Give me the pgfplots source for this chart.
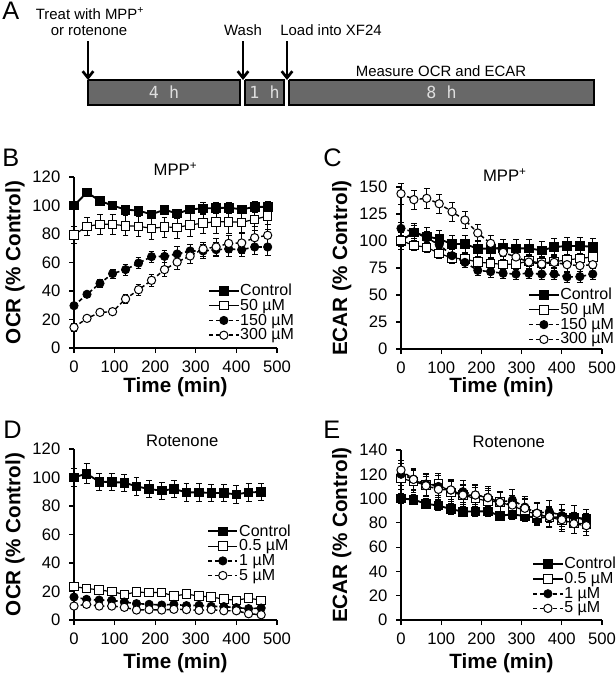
\documentclass[border=0pt]{standalone}
\usepackage{fontspec}
\setmainfont{Liberation Sans}
\newfontfamily\monofont{DejaVu Sans Mono}
\usepackage{pgfplots}
\pgfplotsset{compat=1.18}
\usepackage{pgfplotstable}
\usetikzlibrary{arrows.meta}
\definecolor{bargray}{RGB}{104,104,104}
\definecolor{bartext}{RGB}{222,222,222}

\pgfplotstableread{
t k ke a ae b be c ce
0 100 2 79.3 6 29.7 2 14.5 3
32 109.2 2 85.4 6 37.7 2 20.8 2
64 103.2 2 86.8 7 45.4 3 25.0 2
95 100 3 86.8 7 52.2 3 25.5 2
127 97.1 3 85.8 7 55.0 4 34.4 3
159 96.4 3 85.4 7 59.6 4 40.9 4
191 93.8 3 84.0 8 64.1 4 47.5 4
223 97.1 3 84.9 7 64.3 4 55.0 5
254 94.3 3 84.7 8 66.0 5 60.3 5
286 97.3 3 86.3 8 68.1 5 64.6 5
318 98 4 87.7 7 68.1 5 69.5 5
350 98.2 4 88.6 8 69.0 5 70.9 6
381 98.5 4 88.6 8 69.5 5 73.4 6
413 97.3 3 88.2 7 69.0 5 73.7 7
445 99 4 90.3 8 70.9 5 77.4 8
477 99 4 92.6 9 70.9 6 79.1 8
}\tabB

\pgfplotstableread{
t k ke a ae b be c ce
0 100.3 8 100.3 5 111.7 6 143.8 10
32 108.0 8 96.0 5 108.3 6 138.3 9
64 104.3 8 94.1 5 102.8 6 139.5 9
95 101.8 8 88.6 5 96.6 6 134.5 9
127 97.2 8 84.2 5 86.4 6 127.1 9
159 97.2 8 83.3 5 80.2 5 119.4 8
191 92.9 8 80.5 5 72.8 5 107.4 8
223 92.9 8 79.3 5 71.6 5 97.8 7
254 93.5 8 78.4 5 70.1 5 89.5 7
286 93.2 8 78.7 5 69.4 5 85.2 7
318 93.2 8 81.5 5 70.1 5 80.5 7
350 91.3 8 79.6 5 69.4 5 78.7 7
381 94.4 8 80.9 5 69.4 5 80.2 7
413 95.4 8 82.4 5 66.7 5 78.1 7
445 95.4 8 83.9 5 67.0 5 77.2 7
477 94.7 8 85.2 5 69.4 5 78.1 7
}\tabC

\pgfplotstableread{
t k ke a ae b be c ce
0 100.1 6 23.4 1.5 16.1 1.5 9.8 1
31 102.7 7 22.2 1.5 14.5 1.5 11.0 1
62 97.1 6 21.1 1.5 14.0 1.5 9.8 1
93 96.8 6 19.9 1.5 13.8 1.5 9.8 1
124 96.4 6 18.0 1.5 12.6 1.5 8.9 1
154 93.8 6 19.6 1.5 11.5 1.5 7.0 1
185 91.9 6 19.2 1.5 11.0 1.5 7.3 1
216 90.8 6 19.4 1.5 10.5 1.5 7.0 1
246 91.9 6 16.8 1.5 11.0 1.5 7.5 1
277 89.6 6 18.2 1.5 10.1 1.5 7.3 1
308 89.6 6 16.8 1.5 10.3 1.5 6.8 1
338 89.1 6 16.1 1.5 9.6 1.5 7.3 1
369 89.1 6 14.7 1.5 9.4 1.5 6.5 1
400 88.2 6 13.8 1.5 8.7 1.5 6.5 1
430 89.6 6 15.4 1.5 8.0 1.5 4.4 1
461 89.8 6 13.8 1.5 8.4 1.5 3.7 1
}\tabD

\pgfplotstableread{
t k ke a ae b be c ce
0 100.2 4 116.7 9 120 9 123.5 8
31 99.1 4 114 9 116 9 115.8 8
62 95.8 4 111 9 112 9 110.6 8
93 94.2 4 112 9 110 9 107.6 8
124 91.4 4 105 9 107 9 107.1 8
154 89.2 4 103 9 105.7 9 102.9 8
185 89.5 4 100 9 103 9 102.9 8
216 89.5 4 98 9 101 9 100.7 8
246 85.9 4 97 9 96.9 9 96.9 8
277 87.0 4 94 9 98.8 9 94.7 8
308 85.6 4 90 9 93 9 92.0 8
338 84.3 4 87 9 88 9 87.8 8
369 84.8 4 85 9 89.2 9 85.1 8
400 84.3 4 82 9 86 9 82.6 8
430 84.5 4 80 9 85.4 9 79.3 8
461 83.2 4 79 9 82 9 77.7 8
}\tabE

\pgfplotsset{
  ctrl/.style={black, line width=1.4pt, mark=square*, mark size=3.2pt, mark options={solid, fill=black, line width=0.6pt}},
  opensq/.style={black, line width=0.9pt, mark=square*, mark size=3.2pt, mark options={solid, fill=white, line width=0.75pt}},
  fillc/.style={black, line width=1.2pt, dash pattern=on 3pt off 2pt, mark=*, mark size=3.1pt, mark options={solid, fill=black, line width=0.6pt}},
  openc/.style={black, line width=1.1pt, dash pattern=on 3pt off 2pt, mark=*, mark size=3.1pt, mark options={solid, fill=white, line width=0.75pt}},
  eb/.style={error bars/.cd, y dir=both, y explicit, error bar style={line width=0.5pt, solid, black}, error mark options={rotate=90, mark size=2.2pt, line width=0.5pt, solid, black}},
  panel/.style={
    scale only axis, axis lines*=left,
    axis line style={line width=0.8pt},
    xmin=0, xmax=500, ymin=0,
    xtick={0,100,...,500},
    tick align=outside, major tick length=3.75pt,
    tick style={black, line width=0.8pt},
    ticklabel style={font=\fontsize{12.5}{14}\selectfont},
    xticklabel style={yshift=-2.5pt},
    yticklabel style={xshift=-3pt},
    /pgf/number format/assume math mode=true,
    clip=false,
    title style={font=\fontsize{12.5}{14}\selectfont, anchor=center},
    xlabel style={font=\fontsize{15.5}{18}\selectfont\bfseries, anchor=center},
    ylabel style={font=\fontsize{15.5}{18}\selectfont\bfseries, anchor=center},
    xlabel={Time (min)},
    legend style={draw=none, fill=none, inner sep=0pt, row sep=0pt, font=\fontsize{12}{13}\selectfont, cells={anchor=west}, nodes={inner sep=0.6pt}},
    legend image code/.code={\draw[mark repeat=2,mark phase=2,##1] plot coordinates {(0pt,0pt) (11pt,0pt) (22pt,0pt)};},
  },
}

\begin{document}
\begin{tikzpicture}
\path[use as bounding box] (0,0) rectangle (462pt,-509.25pt);

% Panel A schematic
\begin{axis}[hide axis, scale only axis, at={(0pt,0pt)}, anchor=north west,
  width=462pt, height=105pt, xmin=0, xmax=616, ymin=-140, ymax=0, clip=false]
\addplot[draw=black, line width=0.8pt, fill=bargray] coordinates {(88,-80) (240,-80) (240,-105) (88,-105) (88,-80)};
\addplot[draw=black, line width=0.8pt, fill=bargray] coordinates {(245,-80) (284,-80) (284,-105) (245,-105) (245,-80)};
\addplot[draw=black, line width=0.8pt, fill=bargray] coordinates {(289,-80) (594,-80) (594,-105) (289,-105) (289,-80)};
\addplot[black, line width=2pt, -{Straight Barb[length=5pt,width=8pt]}] coordinates {(88,-41) (88,-80)};
\addplot[black, line width=2pt, -{Straight Barb[length=5pt,width=8pt]}] coordinates {(243,-41) (243,-80)};
\addplot[black, line width=2pt, -{Straight Barb[length=5pt,width=8pt]}] coordinates {(287,-41) (287,-80)};
\node[anchor=base, inner sep=0pt, font=\fontsize{11.2}{13}\selectfont] at (axis cs:90,-19) {Treat with MPP\textsuperscript{+}};
\node[anchor=base, inner sep=0pt, font=\fontsize{11.2}{13}\selectfont] at (axis cs:89,-35) {or rotenone};
\node[anchor=base, inner sep=0pt, font=\fontsize{11.2}{13}\selectfont] at (axis cs:243,-35) {Wash};
\node[anchor=base, inner sep=0pt, font=\fontsize{11.2}{13}\selectfont] at (axis cs:331,-35) {Load into XF24};
\node[anchor=base, inner sep=0pt, font=\fontsize{11.2}{13}\selectfont] at (axis cs:441,-76.5) {Measure OCR and ECAR};
\node[inner sep=0pt, text=bartext, font=\monofont\fontsize{12.5}{14}\selectfont] at (axis cs:164,-92.5) {4 h};
\node[inner sep=0pt, text=bartext, font=\monofont\fontsize{12.5}{14}\selectfont] at (axis cs:264.5,-92.5) {1 h};
\node[inner sep=0pt, text=bartext, font=\monofont\fontsize{12.5}{14}\selectfont] at (axis cs:441.5,-92.5) {8 h};
\end{axis}

% Panel letters
\node[anchor=base west, inner sep=0pt, font=\fontsize{19}{22}\selectfont] at (1.5pt,-14.25pt) {A};
\node[anchor=base west, inner sep=0pt, font=\fontsize{19}{22}\selectfont] at (1.5pt,-124.5pt) {B};
\node[anchor=base west, inner sep=0pt, font=\fontsize{19}{22}\selectfont] at (242.25pt,-124.5pt) {C};
\node[anchor=base west, inner sep=0pt, font=\fontsize{19}{22}\selectfont] at (2.25pt,-328.5pt) {D};
\node[anchor=base west, inner sep=0pt, font=\fontsize{19}{22}\selectfont] at (242.25pt,-328.5pt) {E};

% Panel B
\begin{axis}[panel, at={(55.5pt,-261pt)}, anchor=south west, width=152.25pt, height=128.25pt,
  ymax=120, ytick={0,20,...,120},
  title={MPP\textsuperscript{+}}, title style={at={(axis description cs:0.5,1)}},
  ylabel={OCR (\% Control)},
  xlabel style={at={(axis description cs:0.5,0)}, yshift=-29.25pt},
  ylabel style={at={(axis description cs:-0.2906,0.5)}},
  legend style={at={(axis description cs:0.66,0.03)}, anchor=south west}]
\addplot[ctrl, eb] table[x=t, y=k, y error=ke] {\tabB};
\addplot[opensq, eb] table[x=t, y=a, y error=ae] {\tabB};
\addplot[fillc, eb] table[x=t, y=b, y error=be] {\tabB};
\addplot[openc, eb] table[x=t, y=c, y error=ce] {\tabB};
\legend{Control, 50 µM, 150 µM, 300 µM}
\end{axis}

% Panel C
\begin{axis}[panel, at={(300.75pt,-261.75pt)}, anchor=south west, width=150.75pt, height=121.5pt,
  ymax=150, ytick={0,25,...,150},
  title={MPP\textsuperscript{+}}, title style={at={(axis description cs:0.5,1)}, xshift=2.5pt, yshift=3pt},
  ylabel={ECAR (\% Control)},
  xlabel style={at={(axis description cs:0.5,0)}, yshift=-28.3pt},
  ylabel style={at={(axis description cs:-0.295,0.5)}},
  legend style={at={(axis description cs:0.632,0.012)}, anchor=south west}]
\addplot[ctrl, eb] table[x=t, y=k, y error=ke] {\tabC};
\addplot[opensq, eb] table[x=t, y=a, y error=ae] {\tabC};
\addplot[fillc, eb] table[x=t, y=b, y error=be] {\tabC};
\addplot[openc, eb] table[x=t, y=c, y error=ce] {\tabC};
\legend{Control, 50 µM, 150 µM, 300 µM}
\end{axis}

% Panel D
\begin{axis}[panel, at={(55.5pt,-465pt)}, anchor=south west, width=152.25pt, height=128.25pt,
  ymax=120, ytick={0,20,...,120},
  title={Rotenone}, title style={at={(axis description cs:0.5,1)}, xshift=5pt},
  ylabel={OCR (\% Control)},
  xlabel style={at={(axis description cs:0.5,0)}, yshift=-32.25pt},
  ylabel style={at={(axis description cs:-0.2906,0.5)}},
  legend style={at={(axis description cs:0.655,0.216)}, anchor=south west}]
\addplot[ctrl, eb] table[x=t, y=k, y error=ke] {\tabD};
\addplot[opensq, eb] table[x=t, y=a, y error=ae] {\tabD};
\addplot[fillc, eb] table[x=t, y=b, y error=be] {\tabD};
\addplot[openc, eb] table[x=t, y=c, y error=ce] {\tabD};
\legend{Control, 0.5 µM, 1 µM, 5 µM}
\end{axis}

% Panel E
\begin{axis}[panel, at={(300.75pt,-465pt)}, anchor=south west, width=150.75pt, height=127.5pt,
  ymax=140, ytick={0,20,...,140},
  title={Rotenone}, title style={at={(axis description cs:0.5,1)}, xshift=5.5pt},
  ylabel={ECAR (\% Control)},
  xlabel style={at={(axis description cs:0.5,0)}, yshift=-32.25pt},
  ylabel style={at={(axis description cs:-0.295,0.5)}},
  legend style={at={(axis description cs:0.652,0.024)}, anchor=south west}]
\addplot[ctrl, eb] table[x=t, y=k, y error=ke] {\tabE};
\addplot[opensq, eb] table[x=t, y=a, y error=ae] {\tabE};
\addplot[fillc, eb] table[x=t, y=b, y error=be] {\tabE};
\addplot[openc, eb] table[x=t, y=c, y error=ce] {\tabE};
\legend{Control, 0.5 µM, 1 µM, 5 µM}
\end{axis}
\end{tikzpicture}
\end{document}
